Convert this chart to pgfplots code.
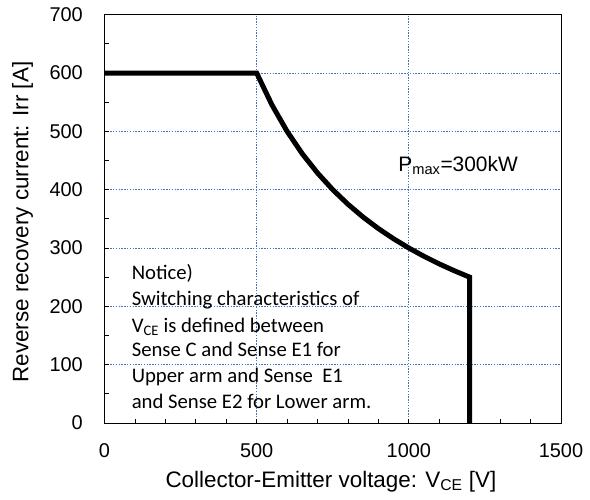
\documentclass[border=0pt]{standalone}
\usepackage{fontspec}
\setmainfont{Liberation Sans}
\newfontfamily\calibri{Carlito}
\usepackage{pgfplots}
\pgfplotsset{compat=1.18}
\definecolor{gridblue}{RGB}{68,114,196}
\pgfplotsset{
  layers/mylayers/.define layer set={axis background,axis grid,pre main,axis ticks,axis lines,main,axis tick labels,axis descriptions,axis foreground}{},
}
\begin{document}
\begin{tikzpicture}
\begin{axis}[
  set layers=mylayers,
  scale only axis, width=456.5bp, height=408.3bp,
  xmin=0, xmax=1500, ymin=0, ymax=700,
  xtick={0,500,1000,1500}, ytick={0,100,...,700},
  minor x tick num=4, minor y tick num=1,
  tick align=inside, xtick pos=bottom, ytick pos=left,
  major tick length=4bp, minor tick length=4bp,
  grid=major,
  major grid style={draw=gridblue, line width=0.8bp, dash pattern=on 1.4bp off 1.4bp},
  axis line style={line width=1bp},
  tick style={black, line width=0.8bp},
  /pgf/number format/assume math mode=true,
  scaled ticks=false, /pgf/number format/1000 sep={},
  ticklabel style={font=\fontsize{20}{24}\selectfont, inner sep=0pt},
  xticklabel style={anchor=north, yshift=-20bp},
  yticklabel style={anchor=east, xshift=-21.5bp},
  xlabel={Collector-Emitter voltage: V\textsubscript{CE} [V]},
  xlabel style={font=\fontsize{22.5}{26}\selectfont, inner sep=0pt, at={(axis description cs:0.496,0)}, anchor=base, yshift=-64bp},
  ylabel={Reverse recovery current: Irr [A]},
  ylabel style={font=\fontsize{22.5}{26}\selectfont, inner sep=0pt, at={(axis description cs:-0.1796,0.492)}, anchor=center},
]
\begin{pgfonlayer}{pre main}
\fill[white] (axis cs:0,0) rectangle (axis cs:974,288);
\fill[white] (axis cs:955,429) rectangle (axis cs:1375,475);
\end{pgfonlayer}
\addplot[black, line width=5bp, mark=none] coordinates {
(0,600) (500,600) (550,545.5) (600,500) (650,461.5) (700,428.6) (750,400)
(800,375) (850,352.9) (900,333.3) (950,315.8) (1000,300) (1050,285.7)
(1100,272.7) (1150,260.9) (1200,250) (1200,0)
};
\node[anchor=base west, inner sep=0pt, font=\fontsize{21}{25}\selectfont] at (axis cs:965,431) {P\textsubscript{max}=300kW};
\begin{scope}[every node/.style={anchor=base west, inner sep=0pt, font=\calibri\fontsize{20.8}{25.7}\selectfont}]
\node at (axis cs:89,245.2) {Notice)};
\node at (axis cs:89,200.6) {Switching characteristics of};
\node at (axis cs:89,156.0) {V\textsubscript{CE} is defined between};
\node at (axis cs:89,113.2) {Sense C and Sense E1 for};
\node at (axis cs:89,68.6) {Upper arm and Sense\ \ E1};
\node at (axis cs:89,25.7) {and Sense E2 for Lower arm.};
\end{scope}
\end{axis}
\path (-104.5bp,-77bp) rectangle (485.5bp,423bp);
\end{tikzpicture}
\end{document}
